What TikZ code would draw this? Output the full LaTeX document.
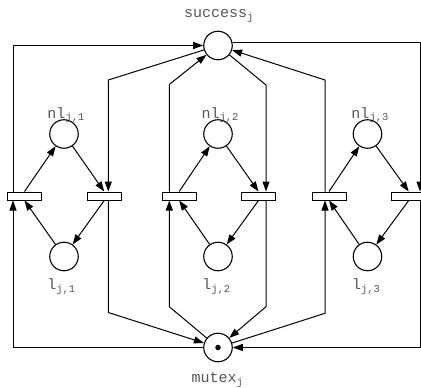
\documentclass[tikz,border=0pt]{standalone}
\usepackage{fontspec}
\setmonofont{Liberation Mono}
\usetikzlibrary{arrows.meta,calc}
\definecolor{lblgray}{HTML}{555555}
\begin{document}
\begin{tikzpicture}[x=1pt,y=-1pt,
  place/.style={circle,draw,line width=1.1pt,fill=white,minimum size=28.5pt,inner sep=0pt},
  token/.style={circle,fill=black,minimum size=5.5pt,inner sep=0pt},
  trans/.style={rectangle,draw,line width=1pt,fill=white,minimum width=34pt,minimum height=8pt,inner sep=0pt},
  arr/.style={line width=1pt,-{Triangle[length=10pt,width=7pt]}},
  lbl/.style={font=\ttfamily\fontsize{15}{17}\selectfont,text=lblgray,anchor=base,inner sep=0pt}]
\useasboundingbox (0,0) rectangle (421,388);
\clip (0,0) rectangle (421,388);
% places
\node[place] (succ) at (218,45.5) {};
\node[place] (mutex) at (218,347.5) {};
\node[token] (tok) at (mutex) {};
\node[place] (nl1) at (64,134) {};
\node[place] (l1) at (64,256.5) {};
\node[place] (nl2) at (218,134) {};
\node[place] (l2) at (218,256.5) {};
\node[place] (nl3) at (367.5,134) {};
\node[place] (l3) at (367.5,256.5) {};
% transitions
\node[trans] (t1) at (24.5,196) {};
\node[trans] (t2) at (104.2,196) {};
\node[trans] (t3) at (179.2,196) {};
\node[trans] (t4) at (258.5,196) {};
\node[trans] (t5) at (329,196) {};
\node[trans] (t6) at (408.7,196) {};
% labels
\node[lbl] (lsucc) at (219,17.5) {success\textsubscript{j}};
\node[lbl] (lmutex) at (217.5,382.5) {mutex\textsubscript{j}};
\node[lbl] (lnl1) at (66.2,118) {nl\textsubscript{j,1}};
\node[lbl] (lnl2) at (220.3,118) {nl\textsubscript{j,2}};
\node[lbl] (lnl3) at (370.2,118) {nl\textsubscript{j,3}};
\node[lbl] (ll1) at (61.5,289.5) {l\textsubscript{j,1}};
\node[lbl] (ll2) at (216.5,289.5) {l\textsubscript{j,2}};
\node[lbl] (ll3) at (366.3,289.5) {l\textsubscript{j,3}};
% routing coordinates
\coordinate (xL) at (13,0);
\coordinate (xR) at (420,0);
\coordinate (a2) at (108.3,80);
\coordinate (b2) at (108.3,312.5);
\coordinate (a3) at (169.3,84.5);
\coordinate (b3) at (169.3,306.7);
\coordinate (a4) at (266,85);
\coordinate (b4) at (266,306.7);
\coordinate (a5) at (325,80);
\coordinate (b5) at (325,313.3);
% outer arcs
\draw[arr] (mutex.west) -| (t1.south -| xL);
\draw[arr] (t1.north -| xL) |- (succ.west);
\draw[arr] (succ.10) -| (t6.north -| xR);
\draw[arr] (t6.south -| xR) |- (mutex.east);
% group 1
\draw[arr] (l1) -- (t1.south);
\draw[arr] (t1.north) -- (nl1);
\draw[arr] (nl1) -- (t2.north);
\draw[arr] (t2.south) -- (l1);
\draw[arr] (succ) -- (a2) -- (t2.north -| a2);
\draw[arr] (t2.south -| b2) -- (b2) -- (mutex);
% group 2
\draw[arr] (l2) -- (t3.south);
\draw[arr] (t3.north) -- (nl2);
\draw[arr] (nl2) -- (t4.north);
\draw[arr] (t4.south) -- (l2);
\draw[arr] (t3.north -| a3) -- (a3) -- (succ);
\draw[arr] (mutex) -- (b3) -- (t3.south -| b3);
\draw[arr] (succ) -- (a4) -- (t4.north -| a4);
\draw[arr] (t4.south -| b4) -- (b4) -- (mutex);
% group 3
\draw[arr] (l3) -- (t5.south);
\draw[arr] (t5.north) -- (nl3);
\draw[arr] (nl3) -- (t6.north);
\draw[arr] (t6.south) -- (l3);
\draw[arr] (t5.north -| a5) -- (a5) -- (succ);
\draw[arr] (mutex) -- (b5) -- (t5.south -| b5);
\end{tikzpicture}
\end{document}
